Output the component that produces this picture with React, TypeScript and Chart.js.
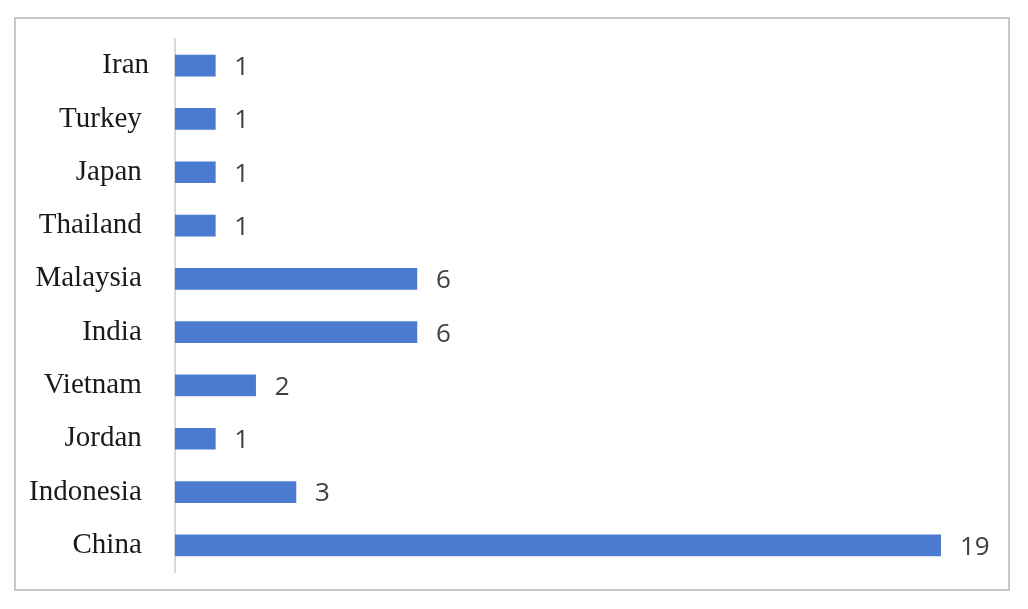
import React, { useEffect, useRef } from "react";
import { Chart, registerables } from "chart.js";

Chart.register(...registerables);

const categories = ["Iran", "Turkey ", "Japan ", "Thailand ", "Malaysia ", "India ", "Vietnam ", "Jordan ", "Indonesia ", "China "];
const counts = [1, 1, 1, 1, 6, 6, 2, 1, 3, 19];

const BAR_COLOR = "#4A7BD0";

export default function App() {
  const ref = useRef<HTMLCanvasElement | null>(null);

  useEffect(() => {
    if (!ref.current) return;
    const framePlugin = {
      id: "frame",
      beforeDraw(chart: any) {
        const ctx = chart.ctx;
        ctx.save();
        ctx.fillStyle = "#ffffff";
        ctx.fillRect(0, 0, chart.width, chart.height);
        ctx.strokeStyle = "#C8C8C8";
        ctx.lineWidth = 2;
        ctx.strokeRect(15, 18, 994, 572);
        ctx.restore();
      },
    };
    const valuePlugin = {
      id: "values",
      afterDatasetsDraw(chart: any) {
        const ctx = chart.ctx;
        const meta = chart.getDatasetMeta(0);
        ctx.save();
        ctx.font = '26px "Open Sans"';
        ctx.fillStyle = "#404040";
        ctx.textAlign = "left";
        ctx.textBaseline = "middle";
        meta.data.forEach((bar: any, i: number) => {
          ctx.fillText(String(counts[i]), bar.x + 19, bar.y + 2);
        });
        ctx.restore();
      },
    };
    const chart = new Chart(ref.current, {
      type: "bar",
      data: {
        labels: categories,
        datasets: [
          {
            data: counts,
            backgroundColor: BAR_COLOR,
            borderWidth: 0,
            barThickness: 21,
          },
        ],
      },
      options: {
        indexAxis: "y",
        animation: false,
        responsive: true,
        maintainAspectRatio: false,
        layout: { padding: { left: 0, top: 39, bottom: 37, right: 87 } },
        plugins: { legend: { display: false }, tooltip: { enabled: false } },
        scales: {
          x: { display: false, min: 0, max: 19 },
          y: {
            afterFit(scale: any) {
              scale.width = 175;
              scale.paddingTop = 0;
              scale.paddingBottom = 0;
            },
            grid: { display: false, drawTicks: false },
            border: { display: true, color: "#D9D9D9", width: 2 },
            ticks: {
              padding: 26,
              color: "#1A1A1A",
              font: { family: '"Liberation Serif", "Times New Roman", serif', size: 29 },
            },
          },
        },
      },
      plugins: [framePlugin, valuePlugin],
    });
    return () => chart.destroy();
  }, []);

  return (
    <div style={{ position: "absolute", left: 0, top: 0, width: 1028, height: 609 }}>
      <canvas ref={ref} />
    </div>
  );
}
